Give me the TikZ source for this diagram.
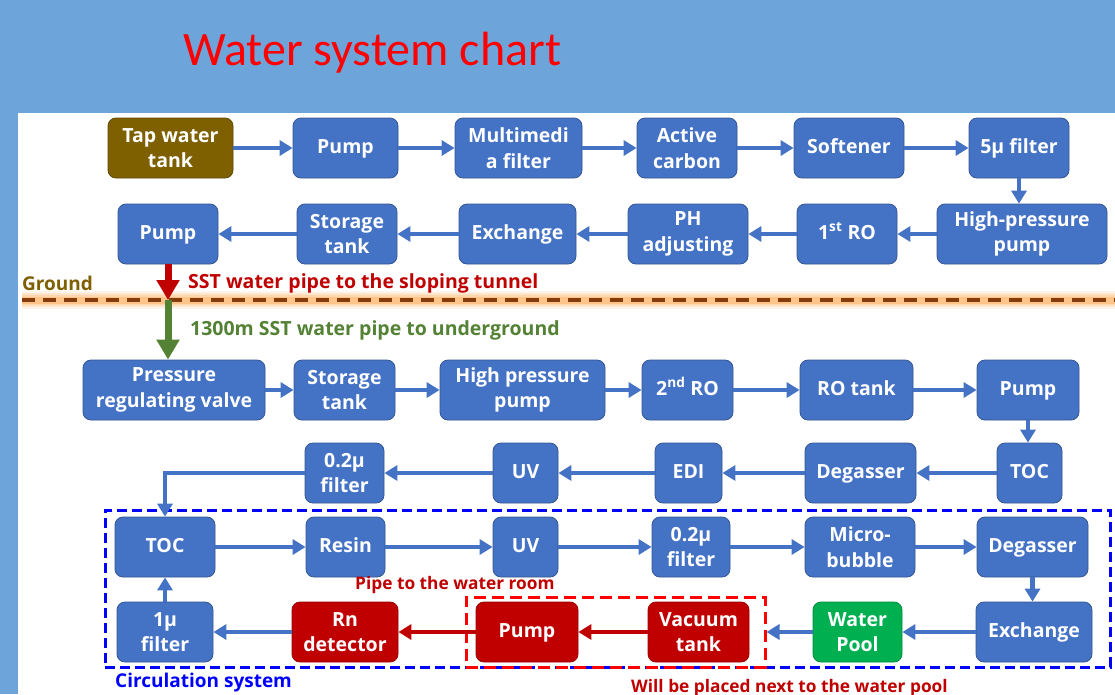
\documentclass[tikz,border=0pt]{standalone}
\usepackage{fontspec}
\setmainfont{Open Sans}
\newfontfamily\titlefont{Carlito}
\usetikzlibrary{arrows.meta,positioning}
\definecolor{bgblue}{HTML}{6DA5DB}
\definecolor{bxblue}{HTML}{4472C4}
\definecolor{bxbrown}{HTML}{7F6000}
\definecolor{bxred}{HTML}{C00000}
\definecolor{bxgreen}{HTML}{00B050}
\definecolor{lblgreen}{HTML}{548235}
\definecolor{grbrown}{HTML}{843C0C}
\tikzset{
  bx/.style={rectangle, rounded corners=8pt, fill=bxblue, draw=bxblue!75!black, line width=0.8pt,
    text=white, font=\fontsize{19.5}{25.5}\selectfont\bfseries, align=center, inner sep=0pt, minimum height=60pt},
  arr/.style={draw=bxblue, line width=4.5pt, -{Triangle[length=13pt,width=15pt]}},
  rarr/.style={draw=bxred, line width=4.5pt, -{Triangle[length=13pt,width=15pt]}},
  lbl/.style={font=\fontsize{19.5}{22}\selectfont\bfseries, inner sep=0pt, anchor=west},
  slbl/.style={font=\fontsize{17.3}{22}\selectfont\bfseries, inner sep=0pt, anchor=west}
}
\newcommand{\bxat}[5]{\node[bx,#1,minimum width=#4pt] (#2) at (#3) {#5};}
\begin{document}
\begin{tikzpicture}[x=1pt,y=-1pt]
\useasboundingbox (0,0) rectangle (1115,694);
\fill[bgblue] (0,0) rectangle (1115,694);
\fill[white] (18,113) rectangle (1115,694);
\node[font=\titlefont\fontsize{48}{50}\selectfont, text=red, inner sep=0pt] (title) at (372,53) {Water system chart};

% Row 1
\bxat{fill=bxbrown,draw=bxbrown!75!black}{tap}{170.5,148}{125}{Tap water\\tank}
\bxat{}{pumpa}{345.5,148}{105}{\strut Pump}
\bxat{}{multi}{518.5,148}{127}{Multimedi\\a filter}
\bxat{}{carbon}{687,148}{100}{Active\\carbon}
\bxat{}{soft}{849,148}{110}{\strut Softener}
\bxat{}{fivemu}{1019,148}{100}{\strut 5μ filter}
% Row 2
\bxat{}{pumpb}{168,234}{100}{\strut Pump}
\bxat{}{stora}{347,234}{100}{Storage\\tank}
\bxat{}{exca}{517.5,234}{117}{\strut Exchange}
\bxat{}{ph}{688,234}{120}{PH\\adjusting}
\bxat{}{roa}{847,234}{100}{\strut 1\textsuperscript{st} RO}
\bxat{}{hppa}{1022,234}{170}{High-pressure\\pump}
% Row 3
\bxat{}{prv}{174,390}{182}{Pressure\\regulating valve}
\bxat{}{storb}{344.5,390}{101}{Storage\\tank}
\bxat{}{hppb}{522.5,390}{165}{High pressure\\pump}
\bxat{}{rob}{687.5,390}{91}{\strut 2\textsuperscript{nd} RO}
\bxat{}{rotank}{856.5,390}{113}{\strut RO tank}
\bxat{}{pumpc}{1028,390}{102}{\strut Pump}
% Row 4
\bxat{}{fzpa}{344.5,473}{79}{0.2μ\\filter}
\bxat{}{uva}{525.5,473}{65}{\strut UV}
\bxat{}{edi}{688.5,473}{67}{\strut EDI}
\bxat{}{dega}{860.5,473}{111}{\strut Degasser}
\bxat{}{toca}{1029.5,473}{65}{\strut TOC}
% Row 5
\bxat{}{tocb}{165,547}{100}{\strut TOC}
\bxat{}{resin}{345.5,547}{79}{\strut Resin}
\bxat{}{uvb}{525.5,547}{65}{\strut UV}
\bxat{}{fzpb}{691,547}{78}{0.2μ\\filter}
\bxat{}{micro}{860,547}{110}{Micro-\\bubble}
\bxat{}{degb}{1032.5,547}{111}{\strut Degasser}
% Row 6
\bxat{}{onemu}{165,632}{96}{1μ\\filter}
\bxat{fill=bxred,draw=bxred!80!black}{rn}{345,632}{106}{Rn\\detector}
\bxat{fill=bxred,draw=bxred!80!black}{pumpd}{527,632}{102}{\strut Pump}
\bxat{fill=bxred,draw=bxred!80!black}{vac}{698.5,632}{101}{Vacuum\\tank}
\bxat{fill=bxgreen,draw=bxgreen!80!black}{pool}{857.5,632}{89}{Water\\Pool}
\bxat{}{excb}{1034,632}{116}{\strut Exchange}

% dashed frames
\node[draw=blue, line width=3pt, dash pattern=on 10pt off 5pt, inner sep=0pt, minimum width=1005pt, minimum height=157pt] (circ) at (607.5,588.5) {};
\node[draw=red, line width=3pt, dash pattern=on 12pt off 6pt, inner sep=0pt, minimum width=299pt, minimum height=70pt] (wroom) at (615.5,632) {};

% ground line with soft glow
\coordinate (gl) at (22,300);
\coordinate (gr) at (1115,300);
\foreach \w/\o in {18/0.12,14/0.18,10/0.25,7/0.35}{
  \draw[orange!70, line width=\w pt, opacity=\o] (gl) -- (gr);
}
\draw[grbrown, line width=4.5pt, dash pattern=on 13pt off 8pt] (gl) -- (gr);

% labels
\node[lbl, text=bxbrown, font=\fontsize{19}{22}\selectfont\bfseries] (ground) at (22,283) {Ground};
\node[lbl, text=bxred] (sst) at (188,283) {SST water pipe to the sloping tunnel};
\node[lbl, text=lblgreen] (under) at (190,330) {1300m SST water pipe to underground};
\node[slbl, text=bxred] (piperoom) at (355,585) {Pipe to the water room};
\node[lbl, text=blue, font=\fontsize{19}{22}\selectfont\bfseries] (circlbl) at (115,683) {Circulation system};
\node[slbl, text=bxred] (place) at (631,688) {Will be placed next to the water pool};

% row 1 arrows
\draw[arr] (tap) -- (pumpa);
\draw[arr] (pumpa) -- (multi);
\draw[arr] (multi) -- (carbon);
\draw[arr] (carbon) -- (soft);
\draw[arr] (soft) -- (fivemu);
\draw[arr] (fivemu) -- (fivemu |- hppa.north);
% row 2 arrows
\draw[arr] (hppa) -- (roa);
\draw[arr] (roa) -- (ph);
\draw[arr] (ph) -- (exca);
\draw[arr] (exca) -- (stora);
\draw[arr] (stora) -- (pumpb);
% down pipe
\coordinate (gx) at (pumpb |- gl);
\draw[draw=bxred, line width=7pt, -{Triangle[length=20pt,width=22pt]}] (pumpb.south) -- (gx);
\draw[draw=lblgreen, line width=7pt, -{Triangle[length=20pt,width=22pt]}] (gx) -- (gx |- prv.north);
% row 3 arrows
\draw[arr] (prv) -- (storb);
\draw[arr] (storb) -- (hppb);
\draw[arr] (hppb) -- (rob);
\draw[arr] (rob) -- (rotank);
\draw[arr] (rotank) -- (pumpc);
\draw[arr] (pumpc) -- (pumpc |- toca.north);
% row 4 arrows
\draw[arr] (toca) -- (dega);
\draw[arr] (dega) -- (edi);
\draw[arr] (edi) -- (uva);
\draw[arr] (uva) -- (fzpa);
\draw[arr] (fzpa.west) -| (tocb.north);
% row 5 arrows
\draw[arr] (tocb) -- (resin);
\draw[arr] (resin) -- (uvb);
\draw[arr] (uvb) -- (fzpb);
\draw[arr] (fzpb) -- (micro);
\draw[arr] (micro) -- (degb);
\draw[arr] (degb) -- (degb |- excb.north);
% row 6 arrows
\draw[arr] (excb) -- (pool);
\draw[arr] (pool.west) -- (wroom.east |- pool.west);
\draw[rarr] (vac) -- (pumpd);
\draw[rarr] (pumpd) -- (rn);
\draw[arr] (rn) -- (onemu);
\draw[arr] (onemu) -- (tocb);
\end{tikzpicture}
\end{document}
